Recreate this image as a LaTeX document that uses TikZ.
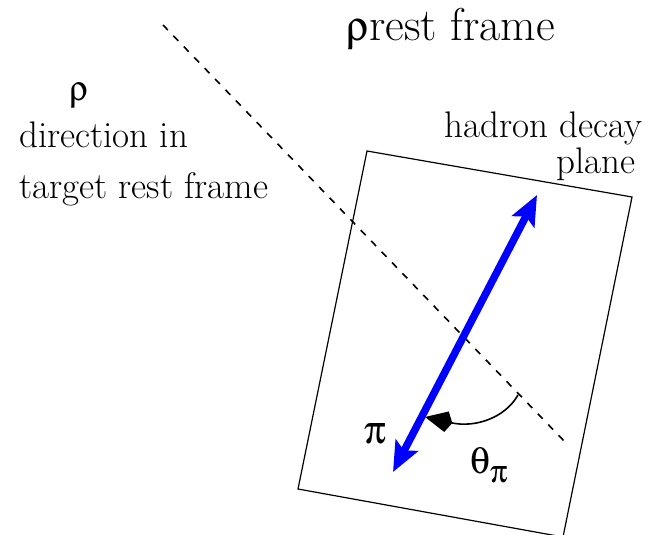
\documentclass[tikz,border=0pt]{standalone}
\usepackage{fontspec}
\usepackage[Symbol]{upgreek}
\usepackage{xcolor}
\definecolor{pionBlue}{HTML}{0000FF}
\definecolor{lineBlack}{HTML}{000000}
\usepackage{tikz}
\usetikzlibrary{
    arrows.meta,
    positioning,
    calc
}
\tikzset{
    % Base style for all text labels
    label base/.style={
        inner sep=0pt,
        text=lineBlack,
        font=\rmfamily\fontsize{37}{40}\selectfont,
    },
    % Large title above the plane
    title label/.style={
        label base,
        font=\rmfamily\fontsize{46}{48}\selectfont,
    },
    % Greek symbol labels near the arrow
    greek label/.style={
        label base,
        font=\rmfamily\fontsize{40}{42}\selectfont,
    },
    % Outline of the decay plane
    plane box/.style={
        draw=lineBlack,
        line width=1.2pt,
        line join=miter,
    },
    % Dashed rho direction axis
    axis dashed/.style={
        draw=lineBlack,
        line width=1.6pt,
        dash pattern=on 7pt off 8pt,
    },
    % Pion momentum - thick blue, heads at both ends
    pion arrow/.style={
        arrows={Stealth[length=30pt,width=25pt,inset=6pt]-Stealth[length=30pt,width=25pt,inset=6pt]},
        draw=pionBlue,
        line width=7.5pt,
    },
    % Angle arc with a kite head
    angle arrow/.style={
        -{Kite[length=28pt,width=21pt,inset=6pt]},
        draw=lineBlack,
        line width=1.6pt,
    },
}
\begin{document}
\begin{tikzpicture}[x=1pt, y=-1pt]
    \useasboundingbox (0,0) rectangle (653,535);
    \clip (0,0) rectangle (653,535);

    \coordinate (plane nw) at (367,151);
    \coordinate (plane ne) at (632,197);
    \coordinate (plane se) at (563,537);
    \coordinate (plane sw) at (298,489);
    \coordinate (axis start) at (163,25);
    \coordinate (axis end) at (566,443);
    \coordinate (pion low) at (393,472);
    \coordinate (pion high) at (537,195);
    \coordinate (arc start) at (518,395);
    \coordinate (arc end) at (425,417);

    \draw [plane box] (plane nw) -- (plane ne) -- (plane se) -- (plane sw) -- cycle;
    \draw [axis dashed] (axis start) -- (axis end);
    \draw [pion arrow] (pion low) -- (pion high);
    \draw [angle arrow] (arc start) .. controls (505,418) and (475,428) .. (arc end);

    \node (rest title) [title label, anchor=base west] at (346,41) {{\fontsize{42}{42}\selectfont$\uprho$}rest frame};
    \node (rho dir) [greek label, anchor=base, font=\rmfamily\fontsize{35}{40}\selectfont] at (79,100) {$\uprho$};
    \node (dir line) [label base, anchor=base west] at (19,147) {direction in};
    \node (target line) [label base, anchor=base west] at (19,198) {target rest frame};
    \node (decay line) [label base, anchor=base east] at (643,137) {hadron decay};
    \node (plane line) [label base, anchor=base east] at (636,173) {plane};
    \node (pion label) [greek label, anchor=base west] at (364,443) {$\uppi$};
    \node (theta label) [greek label, anchor=base west, font=\rmfamily\fontsize{38}{40}\selectfont] at (470,473) {$\uptheta$\raisebox{-9pt}{\fontsize{32}{32}\selectfont$\uppi$}};
\end{tikzpicture}
\end{document}
